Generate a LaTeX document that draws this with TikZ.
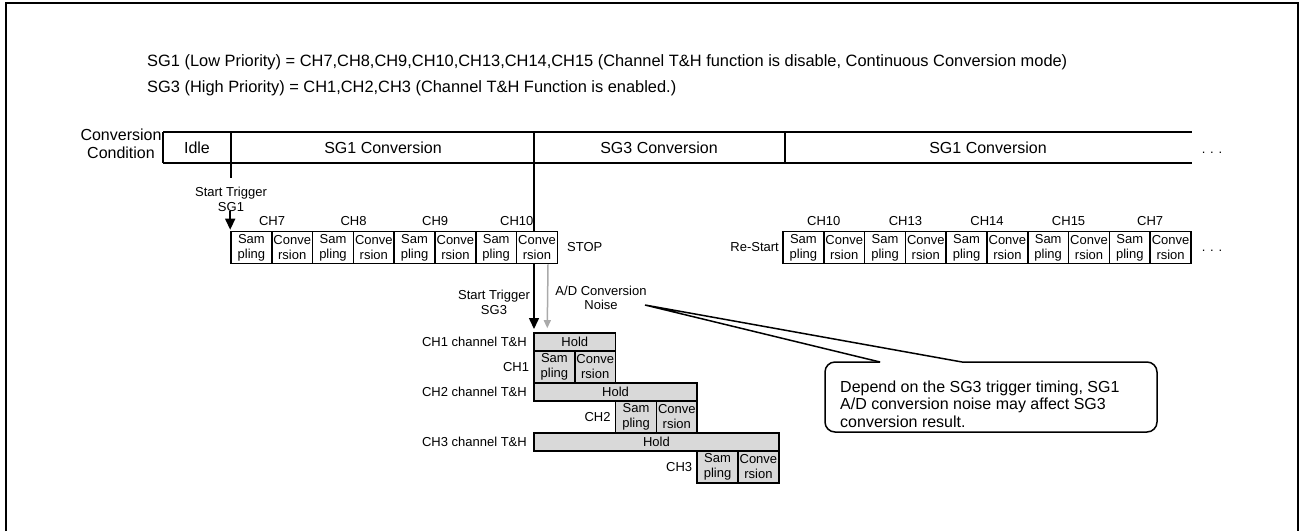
\documentclass[tikz,border=0pt]{standalone}
\usepackage{fontspec}
\setmainfont{Liberation Sans}
\usetikzlibrary{arrows.meta,positioning}
\definecolor{holdgray}{RGB}{217,217,217}
\definecolor{noisegray}{RGB}{170,170,170}

\begin{document}
\begin{tikzpicture}[x=1pt,y=-1pt,
  cell/.style={draw,line width=1.6pt,fill=white,minimum width=40.8pt,minimum height=32pt,
               inner sep=0pt,align=center,font=\fontsize{13}{15}\selectfont},
  holdcell/.style={cell,fill=holdgray},
  holdbar/.style={draw,line width=1.6pt,fill=holdgray,minimum height=18pt,inner sep=0pt,
                  font=\fontsize{13}{15}\selectfont},
  lbl/.style={inner sep=0pt,font=\fontsize{13}{15}\selectfont},
  txt/.style={inner sep=0pt,font=\fontsize{16}{18}\selectfont},
  trig/.style={-{Triangle[length=11pt,width=10pt]},line width=1.5pt}]
  \useasboundingbox (0,0) rectangle (1301,531);
  \draw[line width=2.5pt] (6,531) -- (6,3) -- (1298,3) -- (1298,531);
  % Group settings
  \node[txt,anchor=west,font=\fontsize{16.4}{18}\selectfont] (sgone) at (147,62)
    {SG1 (Low Priority) = CH7,CH8,CH9,CH10,CH13,CH14,CH15 (Channel T\&H function is disable, Continuous Conversion mode)};
  \node[txt,anchor=west,font=\fontsize{16.4}{18}\selectfont] (sgthree) at (147,88)
    {SG3 (High Priority) = CH1,CH2,CH3 (Channel T\&H Function is enabled.)};
  % Conversion condition bar
  \draw[line width=2pt] (163,132) -- (1192,132) (163,163) -- (1192,163);
  \foreach \x in {163,231,534,785}
    \draw[line width=2pt] (\x,132) -- (\x,163);
  \coordinate (divA) at (231,163);
  \coordinate (divB) at (534,163);
  \node[txt,align=center] (cond) at (121,144) {Conversion\\Condition};
  \node[txt] (idle) at (197,148) {Idle};
  \node[txt] (convA) at (383,148) {SG1 Conversion};
  \node[txt] (convB) at (659,148) {SG3 Conversion};
  \node[txt] (convC) at (988,148) {SG1 Conversion};
  \node[lbl,anchor=base] (dotsA) at (1212,153) {. . .};
  % SG3 trigger line (behind the SG1 channels)
  \draw[trig,shorten >=4pt] (divB) -- (534,333);
  % SG1 channels
  \foreach \i/\ch in {0/CH7,1/CH8,2/CH9,3/CH10} {
    \node[cell] (sa\i) at ({251.4+81.6*\i},247.5) {Sam\\pling};
    \node[cell] (ca\i) at ({292.2+81.6*\i},247.5) {Conve\\rsion};
    \node[lbl] (cha\i) at ({272+81.6*\i},221) {\ch};
  }
  \foreach \i/\ch in {0/CH10,1/CH13,2/CH14,3/CH15,4/CH7} {
    \node[cell] (sb\i) at ({803.4+81.6*\i},247.5) {Sam\\pling};
    \node[cell] (cb\i) at ({844.2+81.6*\i},247.5) {Conve\\rsion};
    \node[lbl] (chb\i) at ({823.8+81.6*\i},221) {\ch};
  }
  \node[lbl,anchor=west] (stop) at (567,247) {STOP};
  \node[lbl,anchor=east] (restart) at (779,247) {Re-Start};
  \node[lbl,anchor=base] (dotsB) at (1212,251) {. . .};
  % SG1 start trigger
  \draw[line width=1.5pt] (divA) -- ++(0,15);
  \node[lbl,align=center] (trgA) at (231,199) {Start Trigger\\SG1};
  \draw[trig,shorten >=1pt] (trgA.south -| sa0.north west) -- (sa0.north west);
  % SG3 channels with T&H
  \foreach \i in {1,2,3} {
    \node[holdbar,minimum width={81.6*\i}] (h\i) at ({534+40.8*\i},{292+50*\i}) {Hold};
    \node[holdcell] (sl\i) at ({472.8+81.6*\i},{317+50*\i}) {Sam\\pling};
    \node[holdcell] (cl\i) at ({513.6+81.6*\i},{317+50*\i}) {Conve\\rsion};
    \node[lbl,anchor=east] (th\i) at (527,{292+50*\i}) {CH\i{} channel T\&H};
    \node[lbl,left=4pt of sl\i] (chl\i) {CH\i};
  }
  \node[lbl,align=center] (trgB) at (494,302.5) {Start Trigger\\SG3};
  \node[inner sep=0pt,align=center,font=\fontsize{13}{13.5}\selectfont] (noise) at (601,298)
    {A/D Conversion\\Noise};
  \draw[-{Triangle[length=8pt,width=7pt]},line width=1.5pt,noisegray,shorten >=4pt]
    ([xshift=11pt]ca3.south) -- ([xshift=14pt]h1.north west);
  % Callout
  \coordinate (tip) at (645,305);
  \coordinate (pa) at (880,362);
  \coordinate (pb) at (962,362);
  \draw[line width=1.5pt,rounded corners=10pt] (pb) -- (1157,362) -- (1157,432) -- (825,432) -- (825,362) -- (pa);
  \draw[line width=1.5pt] (pa) -- (tip) -- (pb);
  \node[txt,anchor=west,align=left,font=\fontsize{16}{17.5}\selectfont] (note) at (840,404)
    {Depend on the SG3 trigger timing, SG1\\A/D conversion noise may affect SG3\\conversion result.};
\end{tikzpicture}
\end{document}
